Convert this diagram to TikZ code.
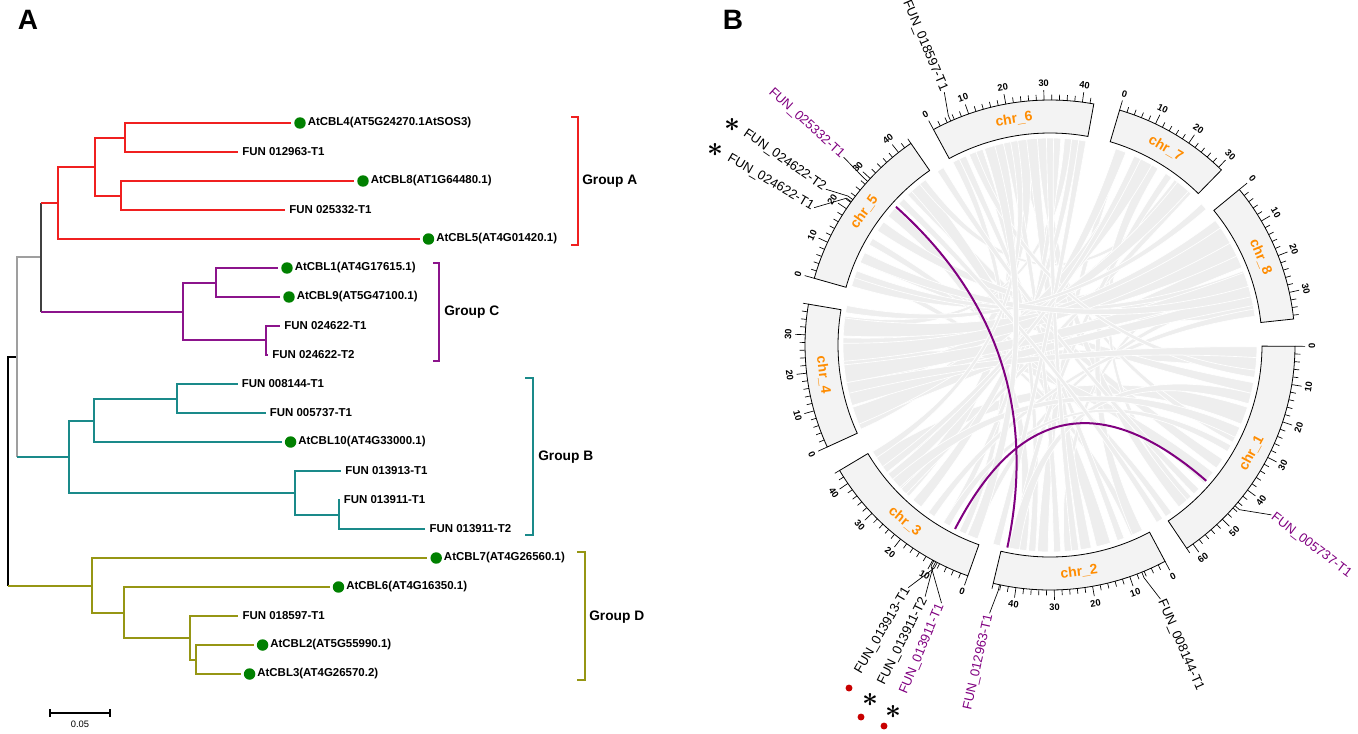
\documentclass[tikz,border=0pt]{standalone}
\usepackage{fontspec}
\usepackage{amsmath}
\setmainfont{Liberation Sans}
\usetikzlibrary{calc}
\definecolor{cA}{RGB}{240,32,32}
\definecolor{cC}{RGB}{140,20,140}
\definecolor{cB}{RGB}{26,138,138}
\definecolor{cD}{RGB}{150,150,20}
\definecolor{dotgreen}{RGB}{0,128,0}
\definecolor{gpurple}{RGB}{128,0,128}
\definecolor{chrorange}{RGB}{255,140,0}
\definecolor{trackfill}{RGB}{243,243,243}
\definecolor{ribboncol}{RGB}{238,238,238}
\definecolor{reddot}{RGB}{200,0,0}
\newcommand\leafdot[4]{%
  \coordinate (#1) at (#2,#3);
  \node[gdot] (#1d) at ($(#1)+(9,0)$) {};
  \node[leaf] (#1t) at ($(#1)+(16.5,0)$) {#4};}
\newcommand\leafplain[4]{%
  \coordinate (#1) at (#2,#3);
  \node[leaf] (#1t) at ($(#1)+(4,0)$) {#4};}
\begin{document}
\begin{tikzpicture}[x=0.75pt,y=-0.75pt,
  br/.style={line width=1.2pt},
  leaf/.style={anchor=west,inner sep=0pt,font=\fontsize{8.6}{10}\selectfont\bfseries},
  gdot/.style={circle,fill=dotgreen,minimum size=8.6pt,inner sep=0pt},
  grp/.style={anchor=west,inner sep=0pt,font=\fontsize{10.3}{12}\selectfont\bfseries},
  panel/.style={inner sep=0pt,font=\fontsize{21}{24}\selectfont\bfseries},
  chrlab/.style={inner sep=0pt,text=chrorange,font=\fontsize{10.5}{12}\selectfont\bfseries},
  ticklab/.style={inner sep=0pt,font=\fontsize{7}{8}\selectfont\bfseries},
  glab/.style={inner sep=1pt,font=\fontsize{9.8}{12}\selectfont},
  gline/.style={line width=0.5pt,black},
  starmark/.style={inner sep=0pt,font=\fontsize{20}{20}\selectfont},
  rdot/.style={circle,fill=reddot,minimum size=5.2pt,inner sep=0pt},
  link/.style={gpurple,line width=1.5pt}]
\useasboundingbox (0,0) rectangle (1358,733);
% ---------------- Panel A ----------------
\node[panel] (pA) at (28,20) {A};
% internal nodes
\coordinate (r0) at (8,471);
\coordinate (n1) at (17,357);
\coordinate (n2) at (41,257);
\coordinate (nA) at (58,203);
\coordinate (nA1) at (95,167);
\coordinate (nA11) at (125,138);
\coordinate (nA12) at (121,196);
\coordinate (nC) at (183,312);
\coordinate (nC1) at (216,283);
\coordinate (nC2) at (266,340);
\coordinate (nB) at (69,457);
\coordinate (nB1) at (94,421);
\coordinate (nB11) at (177,399);
\coordinate (nB2) at (295,493);
\coordinate (nB21) at (339,515);
\coordinate (nD) at (92,586);
\coordinate (nD1) at (124,613);
\coordinate (nD2) at (190,638);
\coordinate (nD3) at (196,660);
% leaves
\leafdot{L1}{291}{123}{AtCBL4(AT5G24270.1AtSOS3)}
\leafplain{L2}{238}{152}{FUN 012963-T1}
\leafdot{L3}{354}{181}{AtCBL8(AT1G64480.1)}
\leafplain{L4}{285}{210}{FUN 025332-T1}
\leafdot{L5}{419.5}{239}{AtCBL5(AT4G01420.1)}
\leafdot{L6}{278}{268}{AtCBL1(AT4G17615.1)}
\leafdot{L7}{280}{297}{AtCBL9(AT5G47100.1)}
\leafplain{L8}{280}{326}{FUN 024622-T1}
\leafplain{L9}{268}{355}{FUN 024622-T2}
\leafplain{L10}{237.5}{384}{FUN 008144-T1}
\leafplain{L11}{265.5}{413}{FUN 005737-T1}
\leafdot{L12}{281.6}{442}{AtCBL10(AT4G33000.1)}
\leafplain{L13}{341}{471}{FUN 013913-T1}
\leafplain{L14}{339.5}{500}{FUN 013911-T1}
\leafplain{L15}{425.3}{529}{FUN 013911-T2}
\leafdot{L16}{427.2}{558}{AtCBL7(AT4G26560.1)}
\leafdot{L17}{329.5}{587}{AtCBL6(AT4G16350.1)}
\leafplain{L18}{238.3}{616}{FUN 018597-T1}
\leafdot{L19}{253.6}{645}{AtCBL2(AT5G55990.1)}
\leafdot{L20}{240.6}{674}{AtCBL3(AT4G26570.2)}
% backbone
\draw[br,black] (r0) |- (n1);
\draw[br,black] (r0) -- (r0 |- nD);
\draw[br,cD] (r0 |- nD) -- (nD);
\draw[br,gray!75] (n1) |- (n2);
\draw[br,gray!75] (n1) -- (n1 |- nB);
\draw[br,cB] (n1 |- nB) -- (nB);
\draw[br,black!75] (n2) -- (n2 |- nA);
\draw[br,cA] (n2 |- nA) -- (nA);
\draw[br,black!75] (n2) -- (n2 |- nC);
\draw[br,cC] (n2 |- nC) -- (nC);
% clades
\foreach \pp/\cc in {nA/nA1,nA/L5,nA1/nA11,nA1/nA12,nA11/L1,nA11/L2,nA12/L3,nA12/L4}
  {\draw[br,cA] (\pp) |- (\cc);}
\foreach \pp/\cc in {nC/nC1,nC/nC2,nC1/L6,nC1/L7,nC2/L8,nC2/L9}
  {\draw[br,cC] (\pp) |- (\cc);}
\foreach \pp/\cc in {nB/nB1,nB/nB2,nB1/nB11,nB1/L12,nB11/L10,nB11/L11,nB2/L13,nB2/nB21,nB21/L14,nB21/L15}
  {\draw[br,cB] (\pp) |- (\cc);}
\foreach \pp/\cc in {nD/L16,nD/nD1,nD1/L17,nD1/nD2,nD2/L18,nD2/nD3,nD3/L19,nD3/L20}
  {\draw[br,cD] (\pp) |- (\cc);}
% brackets
\draw[br,cA] (571,117) -- (578,117) -- (578,245) -- (571,245);
\node[grp] (gA) at (582,181) {Group A};
\draw[br,cC] (433,263) -- (439,263) -- (439,361) -- (433,361);
\node[grp] (gC) at (444,311.7) {Group C};
\draw[br,cB] (525,378) -- (533,378) -- (533,535) -- (525,535);
\node[grp] (gB) at (538,456.7) {Group B};
\draw[br,cD] (577,552) -- (585,552) -- (585,680) -- (577,680);
\node[grp] (gD) at (589,617) {Group D};
% scale bar
\draw[line width=0.9pt] (50,713) -- (110,713);
\draw[line width=0.9pt] (50,709) -- (50,717);
\draw[line width=0.9pt] (110,709) -- (110,717);
\node[inner sep=0pt,font=\fontsize{7}{8}\selectfont] (sb) at (80,724) {0.05};
% ---------------- Panel B ----------------
\node[panel] (pB) at (733,20) {B};
\begin{scope}[shift={(1050,345)}]
% grey ribbons
\foreach \ca/\wa/\cb/\wb in {5/2/175/2.5,12/1.5/205/1.5,20/2.5/145/2.5,27/1/262/1,35/1.5/228/1.5,48/1/300/1,
  66/1/200/1,75/2/230/2,85/1/335/1,92/1.5/290/1,112/1/345/1,135/2/255/2,158/2/262/2,
  168/1/308/1,40/2/185/2,198/1.5/330/1.5,55/1/210/1,98/1.5/220/1.5,232/1/310/1,115/1/243/1,
  50/1.5/268/1.5,187/1/275/1,65/1.5/300/1.5,135/1/312/1,160/2/336/2,215/1.5/350/1.5,
  95/1/250/1,88/1/258/1,80/1.5/265/1.5,120/1/272/1,130/1.5/277/1,70/1/245/1,140/1.5/290/1.5,
  160/2.5/297/2.5,100/1/305/1,170/2/310/2,180/2/325/2,185/2.5/332/2.5,200/1/340/1,165/2/347/2,
  125/1/351/1,15/1.5/100/1.5,30/1/120/1,178/2.5/328/2.5,172/2.5/342/2.5,8/1/248/1,45/1/238/1,
  2/1.5/168/1.5,25/1.5/138/1.5,83/1/270/1,105/1/279/1,143/1/295/1,190/1/318/1,205/1.5/345/1.5,
  148/1/260/1,58/1/224/1,112/1.5/253/1.5}{
  \pgfmathsetmacro\angA{\ca-\wa}
  \pgfmathsetmacro\angB{\ca+\wa}
  \pgfmathsetmacro\angC{\cb-\wb}
  \pgfmathsetmacro\angD{\cb+\wb}
  \path[fill=ribboncol,draw=white,line width=0.5pt]
    (\angA:207) arc[start angle=\angA,end angle=\angB,radius=207]
    .. controls (\angB:69) and (\angC:69) .. (\angC:207)
    arc[start angle=\angC,end angle=\angD,radius=207]
    .. controls (\angD:69) and (\angA:69) .. cycle;
}
% purple links
\coordinate (k5) at (221.9:207);
\coordinate (k2) at (101.9:207);
\coordinate (k3) at (117.3:207);
\coordinate (k1) at (41:207);
\draw[link] (k5) .. controls (221.9:69) and (101.9:69) .. (k2);
\draw[link] (k3) .. controls (117.3:69) and (41:69) .. (k1);
% tracks, ticks and labels
\foreach \kk/\ss/\len in {1/0.3/62,2/62.0/46,3/109.6/44,4/155.4/38,5/195.8/44,6/241.6/43,7/286.5/31,8/320.6/37}{
  \pgfmathsetmacro\ee{\ss+0.9*\len}
  \draw[line width=0.6pt,fill=trackfill] (\ss:212) -- (\ss:245)
     arc[start angle=\ss,end angle=\ee,radius=245] -- (\ee:212)
     arc[start angle=\ee,end angle=\ss,radius=212] -- cycle;
  \pgfmathsetmacro\mm{\ss+0.45*\len}
  \pgfmathsetmacro\rc{ifthenelse(\mm<180,90-\mm,-90-\mm)}
  \node[chrlab,rotate=\rc] at (\mm:228.5) {chr\_\kk};
  \foreach \pp in {0,2,...,\len}{
    \pgfmathsetmacro\tA{\ss+0.9*\pp}
    \pgfmathtruncatemacro\mj{mod(\pp,10)==0}
    \ifnum\mj=1
      \draw[line width=0.5pt] (\tA:245) -- (\tA:255);
      \pgfmathsetmacro\rr{ifthenelse(\tA<180,90-\tA,-90-\tA)}
      \node[ticklab,rotate=\rr] at (\tA:262) {\pp};
    \else
      \draw[line width=0.5pt] (\tA:245) -- (\tA:250.5);
    \fi
  }
}
% gene labels
\coordinate (gp1) at (246.1:245);
\node[glab,anchor=east,rotate=-67.3] (gl1) at (247.3:274) {FUN\_018597-T1};
\draw[gline] (gp1) -- (246.1:251) -- (gl1.east);
\coordinate (gp2) at (221.9:245);
\node[glab,anchor=east,rotate=-42.3,text=gpurple] (gl2) at (222.3:279) {FUN\_025332-T1};
\draw[gline] (gp2) -- (221.9:251) -- (gl2.east);
\coordinate (gp3) at (216.4:245);
\node[glab,anchor=east,rotate=-34.8] (gl3) at (214.8:273) {FUN\_024622-T2};
\draw[gline] (gp3) -- (216.4:251) -- (gl3.east);
\coordinate (gp4) at (215.8:245);
\node[glab,anchor=east,rotate=-30.2] (gl4) at (210.2:273) {FUN\_024622-T1};
\draw[gline] (gp4) -- (215.8:251) -- (gl4.east);
\coordinate (gp5) at (117.4:245);
\node[glab,anchor=east,rotate=59.7] (gl5) at (120.3:281) {FUN\_013913-T1};
\draw[gline] (gp5) -- (117.4:251) -- (gl5.east);
\coordinate (gp6) at (117.8:245);
\node[glab,anchor=east,rotate=63.6] (gl6) at (116.4:281) {FUN\_013911-T2};
\draw[gline] (gp6) -- (117.8:251) -- (gl6.east);
\coordinate (gp7) at (118.3:245);
\node[glab,anchor=east,rotate=67.2,text=gpurple] (gl7) at (112.8:280) {FUN\_013911-T1};
\draw[gline] (gp7) -- (118.3:251) -- (gl7.east);
\coordinate (gp8) at (101.9:245);
\node[glab,anchor=east,rotate=77.3,text=gpurple] (gl8) at (102.7:275) {FUN\_012963-T1};
\draw[gline] (gp8) -- (101.9:251) -- (gl8.east);
\coordinate (gp9) at (68:245);
\node[glab,anchor=west,rotate=-66.5] (gl9) at (66.5:277) {FUN\_008144-T1};
\draw[gline] (gp9) -- (68:251) -- (gl9.west);
\coordinate (gp10) at (41:245);
\node[glab,anchor=west,rotate=-37.5,text=gpurple] (gl10) at (37.5:279) {FUN\_005737-T1};
\draw[gline] (gp10) -- (41:251) -- (gl10.west);
\end{scope}
% stars and red dots
\node[starmark] (st1) at (732,125) {$\boldsymbol{\ast}$};
\node[starmark] (st2) at (715,150) {$\boldsymbol{\ast}$};
\node[starmark] (st3) at (870,700) {$\boldsymbol{\ast}$};
\node[starmark] (st4) at (893,712) {$\boldsymbol{\ast}$};
\node[rdot] (rd1) at (849,688) {};
\node[rdot] (rd2) at (861,717) {};
\node[rdot] (rd3) at (884,726) {};
\end{tikzpicture}
\end{document}
